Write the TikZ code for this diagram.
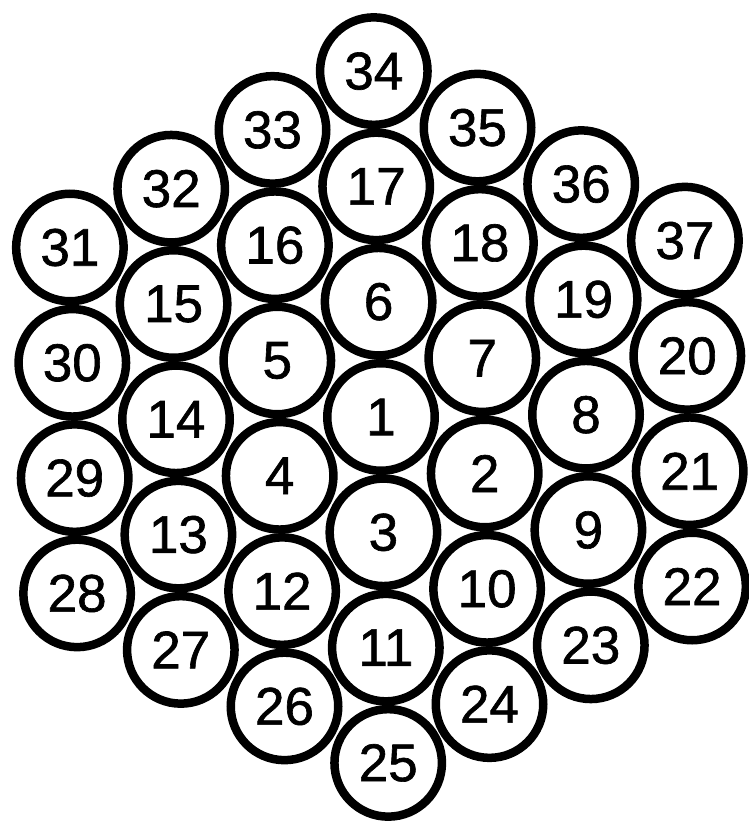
\documentclass[tikz,border=0pt]{standalone}
\usepackage{fontspec}
\setmainfont{Liberation Sans}[FakeBold=1.2]
\begin{document}
\begin{tikzpicture}[x=1pt,y=-1pt,
  ball/.style={circle, draw=black, line width=8.5pt, minimum size=107.5pt, inner sep=0pt,
    font=\fontsize{53}{53}\selectfont}]
\useasboundingbox[fill=white] (0,0) rectangle (749,824);
\foreach \k/\p/\q in {1/0/0, 2/1/0, 3/1/1, 4/0/1, 5/-1/0, 6/-1/-1, 7/0/-1,
  8/1/-1, 9/2/0, 10/2/1, 11/2/2, 12/1/2, 13/0/2, 14/-1/1, 15/-2/0, 16/-2/-1, 17/-2/-2, 18/-1/-2, 19/0/-2,
  20/1/-2, 21/2/-1, 22/3/0, 23/3/1, 24/3/2, 25/3/3, 26/2/3, 27/1/3, 28/0/3, 29/-1/2, 30/-2/1,
  31/-3/0, 32/-3/-1, 33/-3/-2, 34/-3/-3, 35/-2/-3, 36/-1/-3, 37/0/-3} {
  \node[ball] (c\k) at ({381+103.7*\p-101.3*\q},{417+56.5*\p+58.8*\q}) {\k};
}
\end{tikzpicture}
\end{document}
